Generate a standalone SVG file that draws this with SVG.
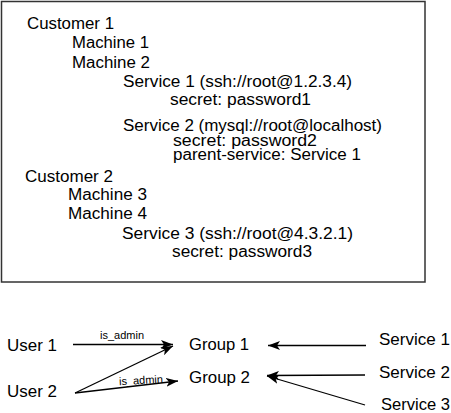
<svg xmlns="http://www.w3.org/2000/svg" width="451" height="413" viewBox="0 0 451 413">
<defs>
<style>
text{font-family:"Liberation Sans",Arial,sans-serif;fill:#000;}
.t{font-size:16px;}
.n{font-size:17px;}
.lbl{font-size:11px;}
.box{fill:#fff;stroke:#333;stroke-width:1.5;}
.edge{stroke:#000;stroke-width:1.3;fill:none;marker-end:url(#arr);}
</style>
<marker id="arr" markerUnits="userSpaceOnUse" markerWidth="13" markerHeight="9" refX="12" refY="4.5" orient="auto">
<path d="M0,0 L12,4.5 L0,9 L3,4.5 z" fill="#000"/>
</marker>
</defs>
<rect width="451" height="413" fill="#fff"/>
<g id="tree">
<rect class="box" x="1.5" y="1.5" width="423.5" height="280.5"/>
<text class="t" x="27" y="29" textLength="87" lengthAdjust="spacingAndGlyphs">Customer 1</text>
<text class="t" x="72" y="48" textLength="77" lengthAdjust="spacingAndGlyphs">Machine 1</text>
<text class="t" x="72" y="68" textLength="78" lengthAdjust="spacingAndGlyphs">Machine 2</text>
<text class="t" x="123" y="87" textLength="229" lengthAdjust="spacingAndGlyphs">Service 1 (ssh://root@1.2.3.4)</text>
<text class="t" x="170" y="105" textLength="141" lengthAdjust="spacingAndGlyphs">secret: password1</text>
<text class="t" x="123" y="131" textLength="259" lengthAdjust="spacingAndGlyphs">Service 2 (mysql://root@localhost)</text>
<text class="t" x="173" y="146" textLength="144" lengthAdjust="spacingAndGlyphs">secret: password2</text>
<text class="t" x="173" y="160" textLength="188" lengthAdjust="spacingAndGlyphs">parent-service: Service 1</text>
<text class="t" x="25" y="182" textLength="88" lengthAdjust="spacingAndGlyphs">Customer 2</text>
<text class="t" x="68" y="200" textLength="79" lengthAdjust="spacingAndGlyphs">Machine 3</text>
<text class="t" x="68" y="219" textLength="79" lengthAdjust="spacingAndGlyphs">Machine 4</text>
<text class="t" x="122" y="239" textLength="231" lengthAdjust="spacingAndGlyphs">Service 3 (ssh://root@4.3.2.1)</text>
<text class="t" x="172" y="257" textLength="140" lengthAdjust="spacingAndGlyphs">secret: password3</text>
</g>
<g id="connectors">
<line class="edge" x1="73" y1="344.5" x2="173" y2="344.5"/>
<line class="edge" x1="75" y1="393" x2="173" y2="346"/>
<line class="edge" x1="75" y1="393" x2="178" y2="381"/>
<line class="edge" x1="366" y1="345.5" x2="268" y2="345.5"/>
<line class="edge" x1="365" y1="375" x2="267" y2="375.5"/>
<line class="edge" x1="365" y1="405" x2="267" y2="376"/>
<text class="lbl" x="100" y="339" textLength="44" lengthAdjust="spacingAndGlyphs">is_admin</text>
<text class="lbl" x="119" y="384" textLength="44" lengthAdjust="spacingAndGlyphs" transform="rotate(-3 141 381)">is_admin</text>
</g>
<g id="user1"><text class="n" x="7" y="351" textLength="50" lengthAdjust="spacingAndGlyphs">User 1</text></g>
<g id="user2"><text class="n" x="7" y="397" textLength="50" lengthAdjust="spacingAndGlyphs">User 2</text></g>
<g id="group1"><text class="n" x="189" y="350" textLength="60" lengthAdjust="spacingAndGlyphs">Group 1</text></g>
<g id="group2"><text class="n" x="189" y="383" textLength="61" lengthAdjust="spacingAndGlyphs">Group 2</text></g>
<g id="service1"><text class="n" x="379" y="345" textLength="71" lengthAdjust="spacingAndGlyphs">Service 1</text></g>
<g id="service2"><text class="n" x="379" y="378" textLength="71" lengthAdjust="spacingAndGlyphs">Service 2</text></g>
<g id="service3"><text class="n" x="381" y="410" textLength="69" lengthAdjust="spacingAndGlyphs">Service 3</text></g>
</svg>
